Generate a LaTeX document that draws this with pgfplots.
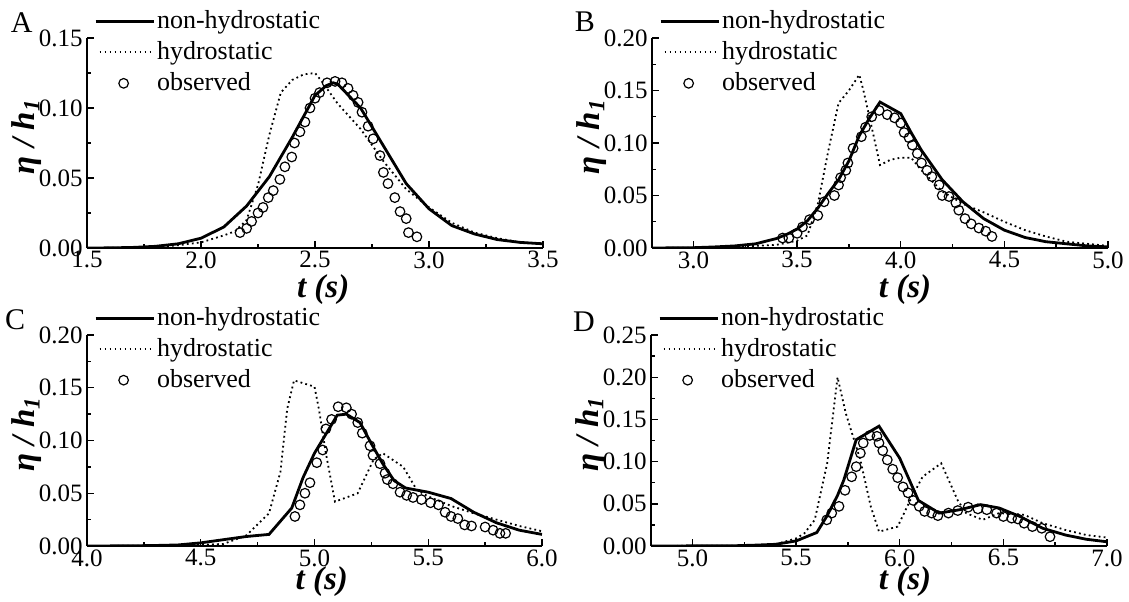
\documentclass[border=0pt]{standalone}
\usepackage{fontspec}
\setmainfont{Liberation Serif}
\usepackage{pgfplots}
\pgfplotsset{compat=1.18}
\tikzset{letter/.style={font=\fontsize{15}{17}\selectfont}}
\pgfplotsset{
  panel/.style={
    scale only axis, clip mode=individual,
    axis x line*=bottom, axis y line*=left,
    tick align=inside,
    axis line style={line width=0.9pt},
    tick style={line width=0.7pt, black},
    major tick length=3.5pt, minor tick length=2pt, minor tick num=1,
    scaled ticks=false,
    ymin=0,
    ticklabel style={font=\fontsize{12.5}{14}\selectfont},
    /pgf/number format/assume math mode=true,
    xticklabel style={inner sep=1.5pt,/pgf/number format/.cd, fixed, precision=1, zerofill},
    yticklabel style={inner sep=2pt,/pgf/number format/.cd, fixed, precision=2, zerofill},
    xlabel={\bfseries\itshape t (s)},
    ylabel={\bfseries\itshape η / h\textsubscript{1}},
    label style={font=\fontsize{16.5}{18}\selectfont, inner sep=0pt},
    ylabel style={at={(axis description cs:-0.133,0.53)}, anchor=center},
    legend style={at={(axis description cs:0.015,1.148)}, anchor=north west, draw=none, fill=none,
      inner sep=0pt, row sep=1.5pt, font=\fontsize{13}{15}\selectfont,
      nodes={inner sep=1pt, text height=9.5pt, text depth=2.5pt}},
    legend cell align=left,
  },
  nh/.style={black, line width=1.4pt, no marks,
    legend image code/.code={\draw[##1] (0pt,0pt) -- (29pt,0pt);}},
  hy/.style={black, line width=0.9pt, dash pattern=on 0.9pt off 1.6pt, no marks,
    legend image code/.code={\draw[##1] (2pt,0pt) -- (29pt,0pt);}},
  ob/.style={black, only marks, mark=o, mark size=2.4pt, mark options={fill=white, line width=0.6pt},
    legend image code/.code={\draw[mark repeat=2,mark phase=2,##1] plot coordinates {(0pt,0pt) (14pt,0pt) (28pt,0pt)};}},
}
\begin{document}
\begin{tikzpicture}
\useasboundingbox (0,0) rectangle (564.5pt,300.5pt);
% Panel A
\begin{axis}[panel, at={(43.5pt,176.5pt)}, anchor=south west, width=228pt, height=105pt,
  xmin=1.5, xmax=3.5, ymax=0.15, xtick={1.5,2,2.5,3,3.5}, ytick={0,0.05,0.1,0.15},
  xlabel style={at={(axis description cs:0.518,-0.2)}, anchor=center}]
\addplot[nh] coordinates {(1.5,0)(1.6,0.0001)(1.7,0.0004)(1.8,0.0012)(1.9,0.003)(2.0,0.007)(2.1,0.015)(2.2,0.030)(2.3,0.051)(2.4,0.079)(2.5,0.109)(2.55,0.116)(2.58,0.118)(2.6,0.117)(2.7,0.100)(2.8,0.073)(2.9,0.046)(3.0,0.028)(3.1,0.016)(3.2,0.010)(3.3,0.006)(3.4,0.004)(3.5,0.003)};
\addlegendentry{non-hydrostatic}
\addplot[hy] coordinates {(1.5,0)(1.7,0.0002)(1.8,0.0007)(1.9,0.002)(2.0,0.004)(2.1,0.009)(2.15,0.012)(2.2,0.020)(2.25,0.045)(2.3,0.081)(2.35,0.111)(2.4,0.120)(2.45,0.124)(2.5,0.125)(2.53,0.119)(2.6,0.103)(2.7,0.085)(2.8,0.062)(2.9,0.042)(3.0,0.029)(3.1,0.018)(3.2,0.011)(3.3,0.007)(3.4,0.004)(3.5,0.003)};
\addlegendentry{hydrostatic}
\addplot[ob] coordinates {(2.171,0.011)(2.20,0.014)(2.222,0.019)(2.25,0.025)(2.272,0.029)(2.295,0.036)(2.317,0.041)(2.346,0.049)(2.368,0.058)(2.398,0.065)(2.41,0.075)(2.434,0.083)(2.456,0.090)(2.478,0.100)(2.50,0.107)(2.52,0.111)(2.553,0.118)(2.588,0.119)(2.618,0.118)(2.645,0.114)(2.667,0.109)(2.689,0.104)(2.706,0.097)(2.733,0.087)(2.755,0.078)(2.785,0.066)(2.80,0.054)(2.82,0.046)(2.85,0.036)(2.873,0.026)(2.90,0.021)(2.91,0.011)(2.947,0.008)};
\addlegendentry{observed}
\node[letter] at (axis description cs:-0.143,1.071) {A};
\end{axis}
% Panel B
\begin{axis}[panel, at={(326pt,176.5pt)}, anchor=south west, width=228pt, height=105pt,
  xmin=2.8, xmax=5.0, ymax=0.20, xtick={3,3.5,4,4.5,5}, ytick={0,0.05,0.1,0.15,0.2},
  xlabel style={at={(axis description cs:0.555,-0.2)}, anchor=center}]
\addplot[nh] coordinates {(2.8,0)(3.0,0.0003)(3.1,0.001)(3.2,0.002)(3.3,0.004)(3.4,0.009)(3.45,0.013)(3.5,0.018)(3.55,0.026)(3.6,0.038)(3.65,0.052)(3.7,0.065)(3.75,0.083)(3.8,0.107)(3.85,0.124)(3.9,0.139)(4.0,0.128)(4.05,0.110)(4.1,0.093)(4.2,0.065)(4.3,0.044)(4.4,0.028)(4.5,0.017)(4.6,0.010)(4.7,0.006)(4.8,0.004)(4.9,0.002)(5.0,0.001)};
\addlegendentry{non-hydrostatic}
\addplot[hy] coordinates {(2.8,0)(3.1,0.0005)(3.3,0.002)(3.4,0.003)(3.5,0.007)(3.55,0.012)(3.6,0.042)(3.65,0.092)(3.7,0.138)(3.75,0.150)(3.8,0.165)(3.82,0.150)(3.86,0.115)(3.9,0.079)(3.95,0.084)(4.0,0.086)(4.05,0.086)(4.1,0.074)(4.2,0.054)(4.3,0.042)(4.4,0.034)(4.5,0.025)(4.6,0.017)(4.7,0.011)(4.8,0.006)(4.9,0.004)(5.0,0.002)};
\addlegendentry{hydrostatic}
\addplot[ob] coordinates {(3.43,0.0095)(3.46,0.0095)(3.50,0.014)(3.526,0.020)(3.56,0.027)(3.60,0.031)(3.63,0.044)(3.68,0.050)(3.70,0.060)(3.71,0.067)(3.735,0.074)(3.745,0.081)(3.77,0.095)(3.81,0.106)(3.83,0.115)(3.86,0.125)(3.896,0.131)(3.935,0.127)(3.97,0.124)(4.00,0.119)(4.016,0.110)(4.04,0.105)(4.056,0.098)(4.08,0.090)(4.10,0.081)(4.127,0.074)(4.15,0.068)(4.185,0.060)(4.20,0.050)(4.233,0.049)(4.266,0.043)(4.28,0.036)(4.31,0.028)(4.34,0.023)(4.377,0.019)(4.41,0.016)(4.44,0.011)};
\addlegendentry{observed}
\node[letter] at (axis description cs:-0.147,1.076) {B};
\end{axis}
% Panel C
\begin{axis}[panel, at={(43.5pt,27.5pt)}, anchor=south west, width=227.5pt, height=105.5pt,
  xmin=4.0, xmax=6.0, ymax=0.20, xtick={4,4.5,5,5.5,6}, ytick={0,0.05,0.1,0.15,0.2},
  xlabel style={at={(axis description cs:0.516,-0.168)}, anchor=center}]
\addplot[nh] coordinates {(4.0,0)(4.2,0.0002)(4.3,0.0005)(4.4,0.001)(4.5,0.003)(4.6,0.006)(4.7,0.009)(4.8,0.011)(4.9,0.036)(4.95,0.065)(5.0,0.088)(5.05,0.106)(5.1,0.124)(5.14,0.125)(5.2,0.117)(5.25,0.097)(5.3,0.078)(5.35,0.062)(5.4,0.055)(5.5,0.051)(5.6,0.045)(5.7,0.032)(5.8,0.022)(5.9,0.015)(6.0,0.011)};
\addlegendentry{non-hydrostatic}
\addplot[hy] coordinates {(4.0,0)(4.4,0.0003)(4.5,0.001)(4.6,0.002)(4.7,0.010)(4.8,0.031)(4.85,0.070)(4.88,0.130)(4.91,0.157)(5.0,0.151)(5.02,0.129)(5.05,0.088)(5.09,0.042)(5.19,0.050)(5.26,0.082)(5.3,0.088)(5.39,0.075)(5.45,0.053)(5.5,0.047)(5.6,0.038)(5.7,0.031)(5.8,0.025)(5.9,0.019)(6.0,0.014)};
\addlegendentry{hydrostatic}
\addplot[ob] coordinates {(4.914,0.028)(4.936,0.039)(4.958,0.050)(4.98,0.060)(5.01,0.079)(5.036,0.091)(5.05,0.111)(5.075,0.120)(5.104,0.132)(5.14,0.131)(5.163,0.125)(5.19,0.117)(5.21,0.107)(5.244,0.095)(5.257,0.086)(5.288,0.078)(5.31,0.069)(5.32,0.063)(5.345,0.059)(5.376,0.051)(5.405,0.048)(5.433,0.046)(5.47,0.044)(5.51,0.041)(5.545,0.039)(5.574,0.032)(5.60,0.028)(5.63,0.026)(5.66,0.020)(5.69,0.019)(5.75,0.018)(5.785,0.015)(5.815,0.012)(5.84,0.012)};
\addlegendentry{observed}
\node[letter] at (axis description cs:-0.158,1.071) {C};
\end{axis}
% Panel D
\begin{axis}[panel, at={(325.5pt,27.5pt)}, anchor=south west, width=228pt, height=105.5pt,
  xmin=4.8, xmax=7.0, ymax=0.25, xtick={5,5.5,6,6.5,7}, ytick={0,0.05,0.1,0.15,0.2,0.25},
  xlabel style={at={(axis description cs:0.557,-0.168)}, anchor=center}]
\addplot[nh] coordinates {(4.8,0)(5.2,0.0003)(5.3,0.001)(5.4,0.002)(5.5,0.006)(5.6,0.016)(5.65,0.036)(5.7,0.060)(5.73,0.078)(5.79,0.126)(5.9,0.142)(6.0,0.104)(6.09,0.054)(6.19,0.039)(6.29,0.043)(6.39,0.049)(6.48,0.045)(6.58,0.035)(6.69,0.021)(6.8,0.013)(6.9,0.008)(7.0,0.005)};
\addlegendentry{non-hydrostatic}
\addplot[hy] coordinates {(4.8,0)(5.3,0.0005)(5.4,0.002)(5.5,0.009)(5.54,0.015)(5.59,0.031)(5.65,0.098)(5.7,0.20)(5.74,0.157)(5.81,0.102)(5.86,0.047)(5.9,0.017)(5.99,0.023)(6.05,0.054)(6.11,0.082)(6.2,0.098)(6.28,0.054)(6.32,0.039)(6.4,0.031)(6.48,0.039)(6.6,0.037)(6.69,0.027)(6.8,0.019)(6.9,0.013)(7.0,0.010)};
\addlegendentry{hydrostatic}
\addplot[ob] coordinates {(5.648,0.031)(5.672,0.039)(5.707,0.047)(5.736,0.066)(5.768,0.082)(5.79,0.094)(5.81,0.110)(5.824,0.122)(5.856,0.131)(5.89,0.130)(5.90,0.122)(5.918,0.113)(5.94,0.102)(5.966,0.091)(5.99,0.081)(6.016,0.070)(6.04,0.063)(6.065,0.054)(6.094,0.047)(6.12,0.041)(6.154,0.039)(6.184,0.036)(6.235,0.039)(6.28,0.042)(6.33,0.046)(6.377,0.044)(6.42,0.043)(6.467,0.039)(6.50,0.035)(6.54,0.033)(6.57,0.032)(6.60,0.027)(6.64,0.023)(6.685,0.021)(6.725,0.011)};
\addlegendentry{observed}
\node[letter] at (axis description cs:-0.147,1.062) {D};
\end{axis}
\end{tikzpicture}
\end{document}
